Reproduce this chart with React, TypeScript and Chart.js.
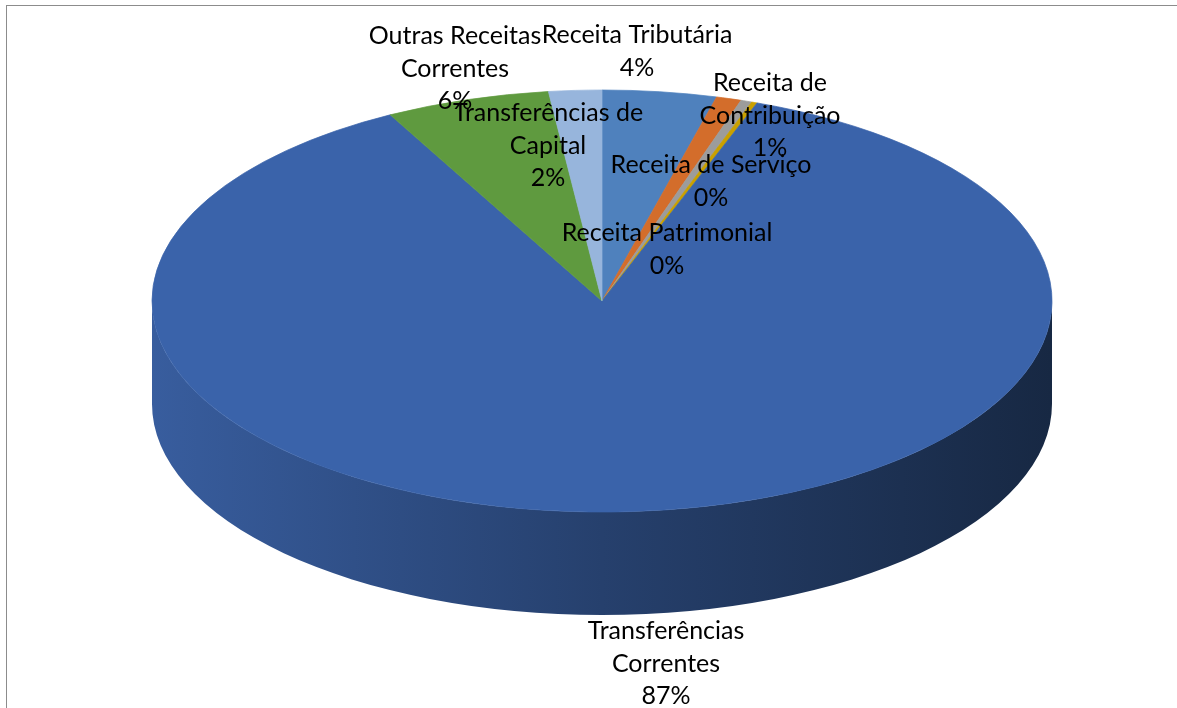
import React, { useEffect, useRef } from "react";
import { Chart, registerables } from "chart.js";

Chart.register(...registerables);

// ---- Data ----
const categories = [
  "Receita Tributária",
  "Receita de Contribuição",
  "Receita de Serviço",
  "Receita Patrimonial",
  "Transferências Correntes",
  "Outras Receitas Correntes",
  "Transferências de Capital",
];
const values = [4.1, 0.9, 0.4, 0.2, 86.6, 5.9, 1.9];
const labelLines = [
  ["Receita Tributária"],
  ["Receita de", "Contribuição"],
  ["Receita de Serviço"],
  ["Receita Patrimonial"],
  ["Transferências", "Correntes"],
  ["Outras Receitas", "Correntes"],
  ["Transferências de", "Capital"],
];

// ---- Styles / layout ----
const topColors = ["#4F81BD", "#D36D2B", "#9C9C9C", "#C9A000", "#3A63AA", "#5F9A3F", "#97B5DC"];
const sideStops = [
  ["#3E6BAE", "#2A4B7D", "#1C3356"],
  ["#C0601F", "#8F4716", "#5E2F0E"],
  ["#8A8A8A", "#666666", "#444444"],
  ["#B08C00", "#806600", "#554400"],
  ["#385D9E", "#26406D", "#172843"],
  ["#558B37", "#3F6829", "#29441B"],
  ["#87A5CC", "#637C9E", "#425470"],
];
const CENTER_Y = 301;
const RADIUS = 450;
const TILT = 211 / 450;
const DEPTH = 103;
const LINE_H = 32.5;
const FONT = "25px Lato";
// label anchor (center x offset from pie center, y of first line)
const labelAnchors = [
  [35, 35],
  [168, 83],
  [109, 165],
  [65, 233],
  [64, 631],
  [-147, 36],
  [-54, 113],
];

const pie3d = {
  id: "pie3d",
  beforeDatasetDraw(chart: any, args: any) {
    const meta = chart.getDatasetMeta(args.index);
    const arcs = meta.data as any[];
    const ctx = chart.ctx as CanvasRenderingContext2D;
    ctx.save();
    if (!arcs.length) return;
    const cx = arcs[0].x;
    const cy = arcs[0].y;
    const R = arcs[0].outerRadius;
    ctx.translate(0, CENTER_Y);
    ctx.scale(1, TILT);
    ctx.translate(0, -cy);
    const d = DEPTH / TILT;
    arcs.forEach((arc: any, i: number) => {
      const s = arc.startAngle;
      const e = arc.endAngle;
      for (const off of [-2 * Math.PI, 0, 2 * Math.PI]) {
        const vs = Math.max(s, off);
        const ve = Math.min(e, Math.PI + off);
        if (ve <= vs) continue;
        ctx.beginPath();
        ctx.arc(cx, cy, R, vs, ve);
        ctx.arc(cx, cy + d, R, ve, vs, true);
        ctx.closePath();
        const g = ctx.createLinearGradient(cx - R, 0, cx + R, 0);
        const st = sideStops[i];
        g.addColorStop(0, st[0]);
        g.addColorStop(0.5, st[1]);
        g.addColorStop(1, st[2]);
        ctx.fillStyle = g;
        ctx.fill();
      }
    });
  },
  afterDatasetDraw(chart: any) {
    chart.ctx.restore();
  },
};

const labelsPlugin = {
  id: "pieLabels",
  afterDraw(chart: any) {
    const meta = chart.getDatasetMeta(0);
    const arcs = meta.data as any[];
    if (!arcs.length) return;
    const cx = arcs[0].x;
    const total = values.reduce((a, b) => a + b, 0);
    const ctx = chart.ctx as CanvasRenderingContext2D;
    ctx.save();
    ctx.font = FONT;
    ctx.fillStyle = "#000000";
    ctx.textAlign = "center";
    ctx.textBaseline = "middle";
    categories.forEach((_, i) => {
      const lines = [...labelLines[i], Math.round((values[i] / total) * 100) + "%"];
      const [dx, y0] = labelAnchors[i];
      lines.forEach((t, j) => ctx.fillText(t, cx + dx, y0 + j * LINE_H));
    });
    ctx.restore();
  },
};

export default function App() {
  const ref = useRef<HTMLCanvasElement | null>(null);
  useEffect(() => {
    if (!ref.current) return;
    const chart = new Chart(ref.current, {
      type: "pie",
      data: {
        labels: categories,
        datasets: [
          {
            data: values,
            backgroundColor: topColors,
            borderColor: topColors,
            borderWidth: 1,
            radius: RADIUS,
            clip: false as any,
          } as any,
        ],
      },
      options: {
        animation: false,
        responsive: false,
        layout: { padding: { left: 27 } },
        plugins: {
          legend: { display: false },
          tooltip: { enabled: false },
        },
        events: [],
      } as any,
      plugins: [pie3d, labelsPlugin],
    });
    let alive = true;
    if ((document as any).fonts) {
      (document as any).fonts.load(FONT).then(() => {
        if (alive) chart.draw();
      });
    }
    return () => {
      alive = false;
      chart.destroy();
    };
  }, []);
  return (
    <div style={{ position: "fixed", left: 0, top: 0, width: 1177, height: 708, background: "#fff", overflow: "hidden" }}>
      <canvas ref={ref} width={1177} height={708} style={{ display: "block", position: "absolute", left: 0, top: 0 }} />
      <div
        style={{
          position: "absolute",
          left: 6,
          top: 5,
          width: 1200,
          height: 720,
          border: "1px solid #8c8c8c",
          pointerEvents: "none",
        }}
      />
    </div>
  );
}
